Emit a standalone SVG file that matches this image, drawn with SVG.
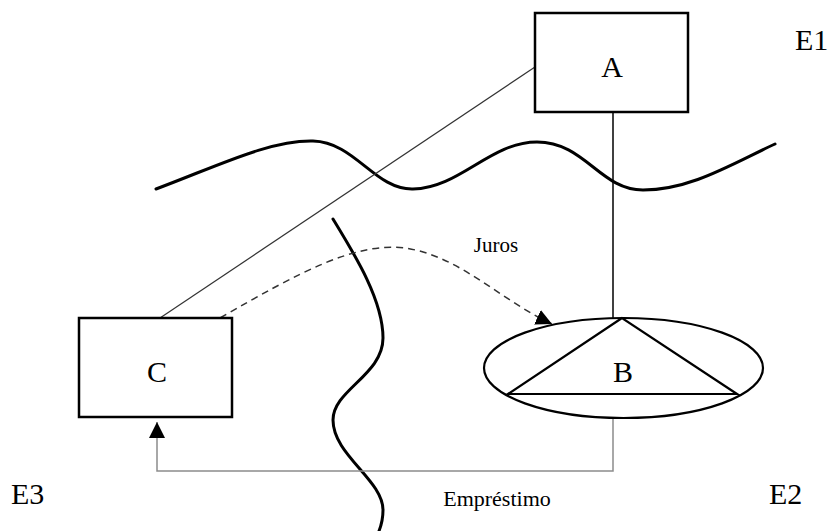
<svg xmlns="http://www.w3.org/2000/svg" width="832" height="531" viewBox="0 0 832 531">
  <style>
    .box { fill: #ffffff; stroke: #000000; stroke-width: 2.5; }
    .shape { fill: none; stroke: #000000; stroke-width: 2.2; }
    .wave { fill: none; stroke: #000000; stroke-width: 3; stroke-linecap: round; }
    .link { fill: none; stroke: #333333; stroke-width: 1.2; }
  </style>
  <defs>
    <marker id="head" viewBox="0 0 10 10" refX="10" refY="5" markerWidth="16" markerHeight="16" markerUnits="userSpaceOnUse" orient="auto">
      <path d="M0,0 L10,5 L0,10 Z" fill="#000000"/>
    </marker>
  </defs>

  <rect width="832" height="531" fill="#ffffff"/>

  <!-- boundary curves -->
  <g id="boundaries">
    <path class="wave" d="M156,189 C220,165 270,140 313,141 C355,142 375,190 413,189 C460,188 490,142 537,142 C585,142 600,190 643,190 C690,190 730,165 775,144"/>
    <path class="wave" d="M333,219 C355,255 383,300 383,338 C383,375 333,390 333,420 C333,455 383,480 383,510 C383,520 381,526 379,531"/>
  </g>

  <!-- connectors -->
  <g id="connectors">
    <line class="link" x1="535" y1="67" x2="160" y2="318"/>
    <line x1="613" y1="112" x2="613" y2="318" stroke="#000000" stroke-width="1.5"/>
    <path d="M220,318 C300,272 355,242 405,248 C460,256 500,300 552,324" fill="none" stroke="#333333" stroke-width="1.5" stroke-dasharray="7,5" marker-end="url(#head)"/>
    <path d="M613,418 L613,471 L157,471 L157,422" fill="none" stroke="#8c8c8c" stroke-width="1.5" marker-end="url(#head)"/>
  </g>

  <g font-family="Liberation Serif, DejaVu Serif, serif" fill="#000000">
    <g id="node-A">
      <rect class="box" x="535" y="13" width="153" height="99"/>
      <text x="612" y="77" font-size="30" text-anchor="middle">A</text>
    </g>

    <g id="node-C">
      <rect class="box" x="79" y="318" width="153" height="99"/>
      <text x="157" y="382" font-size="30" text-anchor="middle">C</text>
    </g>

    <g id="node-B">
      <ellipse class="shape" cx="623.5" cy="368" rx="139.5" ry="50"/>
      <path class="shape" d="M622,318 L508,394 L737,394 Z" stroke-linejoin="miter"/>
      <text x="623" y="382" font-size="30" text-anchor="middle">B</text>
    </g>

    <g id="labels">
      <text x="496" y="252" font-size="21" text-anchor="middle">Juros</text>
      <text x="497" y="506" font-size="22" text-anchor="middle">Empréstimo</text>
      <text x="795" y="50" font-size="30">E1</text>
      <text x="769" y="504" font-size="30">E2</text>
      <text x="11" y="504" font-size="30">E3</text>
    </g>
  </g>
</svg>
